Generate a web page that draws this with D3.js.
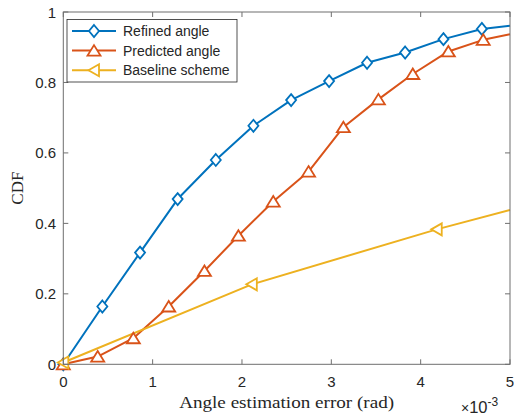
<!DOCTYPE html>
<html>
<head>
<meta charset="utf-8">
<script src="https://cdn.jsdelivr.net/npm/d3@7"></script>
<style>
  html, body { margin: 0; padding: 0; background: #fff; }
  svg { display: block; }
</style>
</head>
<body>
<div id="chart"></div>
<script>
// 讀自圖片的數值（x 單位為 1e-3 rad）
const refinedX = [0, 0.437, 0.859, 1.28, 1.707, 2.128, 2.55, 2.975, 3.40, 3.826, 4.255, 4.685, 5];
const refinedY = [0, 0.164, 0.317, 0.469, 0.580, 0.677, 0.750, 0.804, 0.856, 0.885, 0.923, 0.952, 0.961];

const predictedX = [0, 0.385, 0.784, 1.18, 1.58, 1.96, 2.35, 2.745, 3.135, 3.527, 3.912, 4.31, 4.70, 5];
const predictedY = [0, 0.022, 0.074, 0.164, 0.265, 0.365, 0.462, 0.547, 0.673, 0.752, 0.824, 0.888, 0.921, 0.937];

const baselineX = [0, 2.11, 4.18, 5];
const baselineY = [0.005, 0.227, 0.383, 0.438];

const seriesNames = ["Refined angle", "Predicted angle", "Baseline scheme"];
const seriesColors = ["#0072BD", "#D95319", "#EDB120"];
const seriesMarkers = ["diamond", "triangleUp", "triangleLeft"];

const xTicks = [0, 1, 2, 3, 4, 5];
const yTicks = [0, 0.2, 0.4, 0.6, 0.8, 1];
const yTickLabels = ["0", "0.2", "0.4", "0.6", "0.8", "1"];

const xLabel = "Angle estimation error (rad)";
const yLabel = "CDF";

const width = 514, height = 415;
const plotLeft = 63.3, plotRight = 510, plotTop = 12, plotBottom = 364.3;

const svg = d3.select("#chart").append("svg")
    .attr("width", width)
    .attr("height", height);

const x = d3.scaleLinear().domain([0, 5]).range([plotLeft, plotRight]);
const y = d3.scaleLinear().domain([0, 1]).range([plotBottom, plotTop]);

const axisColor = "#6f6f6f";
const textColor = "#262626";
const tickLen = 5;

// 標記形狀
function markerPath(type) {
  if (type === "diamond") return "M0,-6L5,0L0,6L-5,0Z";
  if (type === "triangleUp") return "M0,-5.5L6.5,5L-6.5,5Z";
  return "M-5.5,0L5,-6L5,6Z";
}

// 曲線
const seriesList = [
  { xs: refinedX, ys: refinedY },
  { xs: predictedX, ys: predictedY },
  { xs: baselineX, ys: baselineY }
];

const line = d3.line().x(d => x(d[0])).y(d => y(d[1]));

const plot = svg.append("g");

seriesList.forEach((s, i) => {
  const pts = s.xs.map((v, j) => [v, s.ys[j]]);
  plot.append("path")
      .attr("d", line(pts))
      .attr("fill", "none")
      .attr("stroke", seriesColors[i])
      .attr("stroke-width", 2)
      .attr("stroke-linejoin", "round");
});

// 最後一點只是線尾，不畫標記
seriesList.forEach((s, i) => {
  const pts = s.xs.map((v, j) => [v, s.ys[j]]).slice(0, s.xs.length - 1);
  plot.selectAll(null)
      .data(pts)
      .enter()
      .append("path")
      .attr("transform", d => `translate(${x(d[0])},${y(d[1])})`)
      .attr("d", markerPath(seriesMarkers[i]))
      .attr("fill", "#fff")
      .attr("stroke", seriesColors[i])
      .attr("stroke-width", 1.8);
});

// 座標框
const frame = svg.append("g")
    .attr("fill", "none")
    .attr("stroke", axisColor)
    .attr("stroke-width", 1);
frame.append("rect")
    .attr("x", plotLeft).attr("y", plotTop)
    .attr("width", plotRight - plotLeft).attr("height", plotBottom - plotTop);

xTicks.forEach(t => {
  frame.append("line").attr("x1", x(t)).attr("x2", x(t)).attr("y1", plotBottom).attr("y2", plotBottom - tickLen);
  frame.append("line").attr("x1", x(t)).attr("x2", x(t)).attr("y1", plotTop).attr("y2", plotTop + tickLen);
});
yTicks.forEach(t => {
  frame.append("line").attr("x1", plotLeft).attr("x2", plotLeft + tickLen).attr("y1", y(t)).attr("y2", y(t));
  frame.append("line").attr("x1", plotRight).attr("x2", plotRight - tickLen).attr("y1", y(t)).attr("y2", y(t));
});

// 刻度文字
const labels = svg.append("g")
    .attr("font-family", "Liberation Sans, Arial, sans-serif")
    .attr("font-size", 15)
    .attr("fill", textColor);

labels.selectAll(".xt")
    .data(xTicks)
    .enter()
    .append("text")
    .attr("x", d => x(d))
    .attr("y", 387)
    .attr("text-anchor", "middle")
    .text(d => d);

labels.selectAll(".yt")
    .data(yTicks)
    .enter()
    .append("text")
    .attr("x", 56)
    .attr("y", d => y(d) + 5.5)
    .attr("text-anchor", "end")
    .text((d, i) => yTickLabels[i]);

// ×10^-3
const expo = labels.append("text")
    .attr("x", 461)
    .attr("y", 413)
    .attr("font-size", 16.5);
expo.append("tspan").attr("font-size", 14).text("\u00d7");
expo.append("tspan").text("10");
expo.append("tspan")
    .attr("font-size", 12)
    .attr("dy", -7)
    .text("-3");

// 軸標題
svg.append("text")
    .attr("x", (plotLeft + plotRight) / 2)
    .attr("y", 408)
    .attr("text-anchor", "middle")
    .attr("font-family", "Liberation Serif, Times New Roman, serif")
    .attr("font-size", 17)
    .attr("fill", textColor)
    .attr("textLength", 215)
    .attr("lengthAdjust", "spacingAndGlyphs")
    .text(xLabel);

svg.append("text")
    .attr("transform", `translate(23,${(plotTop + plotBottom) / 2}) rotate(-90)`)
    .attr("text-anchor", "middle")
    .attr("font-family", "Liberation Serif, Times New Roman, serif")
    .attr("font-size", 17)
    .attr("fill", textColor)
    .text(yLabel);

// 圖例
const legend = svg.append("g");
legend.append("rect")
    .attr("x", 67).attr("y", 19.5)
    .attr("width", 170).attr("height", 62.5)
    .attr("fill", "#fff")
    .attr("stroke", "#262626")
    .attr("stroke-width", 0.8);

seriesNames.forEach((name, i) => {
  const ly = 31 + i * 19.6;
  legend.append("line")
      .attr("x1", 72).attr("x2", 116)
      .attr("y1", ly).attr("y2", ly)
      .attr("stroke", seriesColors[i])
      .attr("stroke-width", 2);
  legend.append("path")
      .attr("transform", `translate(94,${ly})`)
      .attr("d", markerPath(seriesMarkers[i]))
      .attr("fill", "#fff")
      .attr("stroke", seriesColors[i])
      .attr("stroke-width", 1.8);
  legend.append("text")
      .attr("x", 123)
      .attr("y", ly + 5)
      .attr("font-family", "Liberation Sans, Arial, sans-serif")
      .attr("font-size", 14)
      .attr("fill", textColor)
      .text(name);
});
</script>
</body>
</html>
